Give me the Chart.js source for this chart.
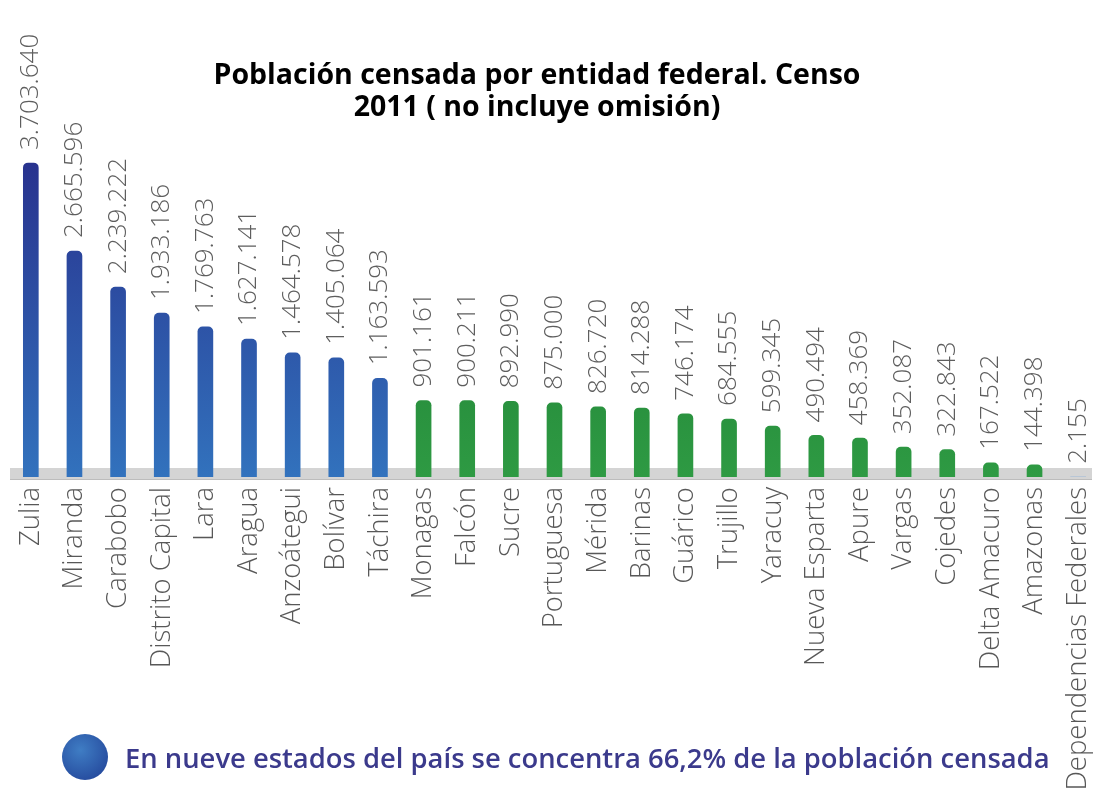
<!DOCTYPE html>
<html lang="es">
<head>
    <meta charset="UTF-8">
    <title>Población censada por entidad federal. Censo 2011</title>
    <script src="https://cdn.jsdelivr.net/npm/chart.js"></script>
    <style>
        body { margin: 0; background: #fff; }
        #wrap { position: relative; width: 1103px; height: 799px; }
        #title {
            position: absolute; left: 0; top: 57px; width: 1074px;
            text-align: center; font-family: "Open Sans", sans-serif;
            font-weight: 700; font-size: 28.5px; line-height: 32px; color: #000;
        }
        #note {
            position: absolute; left: 62px; top: 734px; height: 46px;
            display: flex; align-items: center;
            font-family: "Open Sans", sans-serif; font-weight: 600;
            font-size: 27.4px; color: #3b3a8c;
        }
        #note .dot {
            width: 46px; height: 46px; border-radius: 50%; margin-right: 17px;
            background: radial-gradient(circle at 40% 35%, #3f7dc4, #1f3e94);
        }
    </style>
</head>
<body>
<div id="wrap">
    <canvas id="censo" width="1103" height="799"></canvas>
    <div id="title">Población censada por entidad federal. Censo<br>2011 ( no incluye omisión)</div>
    <div id="note"><span class="dot"></span>En nueve estados del país se concentra 66,2% de la población censada</div>
</div>

<script>
    const entidades = ['Zulia', 'Miranda', 'Carabobo', 'Distrito Capital', 'Lara', 'Aragua', 'Anzoátegui',
        'Bolívar', 'Táchira', 'Monagas', 'Falcón', 'Sucre', 'Portuguesa', 'Mérida', 'Barinas', 'Guárico',
        'Trujillo', 'Yaracuy', 'Nueva Esparta', 'Apure', 'Vargas', 'Cojedes', 'Delta Amacuro', 'Amazonas',
        'Dependencias Federales'];
    const poblacion = [3703640, 2665596, 2239222, 1933186, 1769763, 1627141, 1464578, 1405064, 1163593,
        901161, 900211, 892990, 875000, 826720, 814288, 746174, 684555, 599345, 490494, 458369, 352087,
        322843, 167522, 144398, 2155];
    // first nine states hold 66,2% -> blue, the rest green
    const grupo = ['top', 'top', 'top', 'top', 'top', 'top', 'top', 'top', 'top',
        'resto', 'resto', 'resto', 'resto', 'resto', 'resto', 'resto', 'resto', 'resto', 'resto',
        'resto', 'resto', 'resto', 'resto', 'resto', 'dep'];

    const fmt = n => n.toLocaleString('de-DE');

    function barColor(ctx) {
        const chart = ctx.chart;
        const area = chart.chartArea;
        const g = grupo[ctx.dataIndex];
        if (!area) return '#2b5aa8';
        if (g === 'dep') return '#9bb8d8';
        const grad = chart.ctx.createLinearGradient(0, area.top + 140, 0, area.bottom);
        if (g === 'top') {
            grad.addColorStop(0, '#28328e');
            grad.addColorStop(1, '#3272bd');
        } else {
            grad.addColorStop(0, '#1a7630');
            grad.addColorStop(1, '#2e9a43');
        }
        return grad;
    }

    const baseBand = {
        id: 'baseBand',
        beforeDatasetsDraw(chart) {
            const c = chart.ctx;
            const y0 = chart.scales.y.getPixelForValue(0);
            c.save();
            c.fillStyle = '#d4d4d4';
            c.fillRect(10, y0 - 9, 1082, 11);
            c.fillStyle = '#bcbcbc';
            c.fillRect(10, y0 + 2, 1082, 1);
            c.restore();
        }
    };

    const valueLabels = {
        id: 'valueLabels',
        afterDatasetsDraw(chart) {
            const c = chart.ctx;
            const meta = chart.getDatasetMeta(0);
            c.save();
            c.fillStyle = '#5e5e5e';
            c.font = '300 26px "Open Sans", sans-serif';
            c.textAlign = 'left';
            c.textBaseline = 'middle';
            meta.data.forEach((bar, i) => {
                c.save();
                c.translate(bar.x, bar.y - 13);
                c.rotate(-Math.PI / 2);
                c.fillText(fmt(poblacion[i]), 0, 0);
                c.restore();
            });
            c.restore();
        }
    };

    new Chart(document.getElementById('censo'), {
        type: 'bar',
        data: {
            labels: entidades,
            datasets: [{
                data: poblacion,
                backgroundColor: barColor,
                barThickness: 15,
                borderRadius: { topLeft: 5, topRight: 5 },
                borderSkipped: 'bottom'
            }]
        },
        options: {
            responsive: false,
            animation: false,
            layout: { padding: { left: 9, right: 3, top: 20, bottom: 0 } },
            plugins: {
                legend: { display: false },
                tooltip: { enabled: false }
            },
            scales: {
                x: {
                    grid: { display: false, drawTicks: false },
                    border: { display: false },
                    ticks: {
                        autoSkip: false,
                        minRotation: 90,
                        maxRotation: 90,
                        padding: 10,
                        color: '#585858',
                        font: { family: '"Open Sans", sans-serif', size: 27.5, weight: '300' }
                    },
                    afterFit(scale) {
                        scale.height = 322;
                        scale.paddingLeft = 0;
                        scale.paddingRight = 0;
                    }
                },
                y: {
                    display: false,
                    min: 0,
                    max: 5390000
                }
            }
        },
        plugins: [baseBand, valueLabels]
    });
</script>
</body>
</html>
